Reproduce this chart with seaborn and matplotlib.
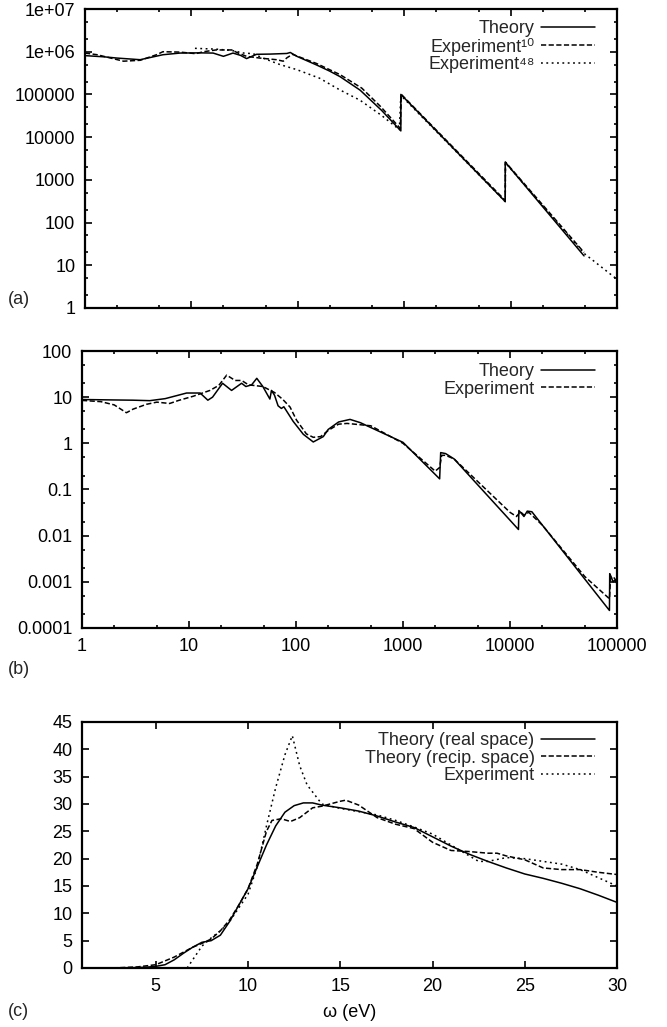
import numpy as np
import pandas as pd
import matplotlib
matplotlib.use("Agg")
import matplotlib.pyplot as plt
import seaborn as sns
from matplotlib.ticker import FixedLocator, FuncFormatter, NullFormatter

# ---------------- Panel (a) ----------------
a_theory_x = [1, 1.5, 2, 3.3, 5.4, 7.8, 12, 16, 20, 24.6, 29, 33, 41, 55, 79, 85, 98,
              150, 200, 250, 385, 615, 930, 930, 8900, 8900, 49000]
a_theory_y = [8.1e5, 7.6e5, 7.1e5, 6.5e5, 8.5e5, 9.3e5, 9.4e5, 9.3e5, 7.8e5, 9.3e5, 8.2e5,
              6.9e5, 8.7e5, 8.8e5, 9.1e5, 9.6e5, 7.8e5, 4.9e5, 3.5e5, 2.6e5, 1.26e5, 4.2e4,
              1.4e4, 1.0e5, 310, 2600, 16.6]
a_exp10_x = [1, 1.3, 2.3, 3.3, 4.7, 5.4, 7.8, 11, 13, 17, 24, 27, 33, 44, 63, 73, 79, 89,
             150, 250, 400, 600, 920, 940, 8900, 8950, 49000]
a_exp10_y = [9.3e5, 8.5e5, 6.0e5, 6.3e5, 8.5e5, 1.0e6, 9.8e5, 9.0e5, 1.0e6, 1.1e6, 1.1e6,
             9.5e5, 7.8e5, 7.1e5, 6.5e5, 6.0e5, 7.2e5, 8.7e5, 5.3e5, 2.9e5, 1.4e5, 5.2e4,
             1.6e4, 1.0e5, 330, 2600, 20]
a_exp48_x = [10.8, 17, 24, 31, 38, 47, 68, 98, 160, 245, 385, 615, 900, 930, 8900, 8950,
             49000, 100000]
a_exp48_y = [1.2e6, 1.15e6, 1.07e6, 9.3e5, 9.0e5, 7.1e5, 5.0e5, 3.8e5, 2.4e5, 1.3e5, 7.3e4,
             3.2e4, 1.5e4, 9.5e4, 310, 2500, 19, 4.7]
a_labels = ["Theory", "Experiment\u00b9\u2070", "Experiment\u2074\u2078"]
a_yticks = [1, 10, 100, 1000, 10000, 100000, 1e6, 1e7]

# ---------------- Panel (b) ----------------
b_theory_x = [1, 2, 3, 4.3, 6, 9.5, 12.7, 15, 16.6, 20.6, 25, 31, 34, 38.5, 43, 49, 57, 59,
              63, 68, 73, 77, 94, 117, 145, 180, 200, 250, 320, 400, 500, 1000, 2200, 2250,
              2500, 3000, 12000, 12100, 13000, 13500, 14500, 16000, 85000, 85500, 88000,
              92000, 96000, 100000]
b_theory_y = [8.9, 8.7, 8.6, 8.4, 9.3, 12.3, 12.3, 8.6, 10, 20, 14, 20, 17, 18.5, 25.6, 17,
              9.1, 14, 11, 6.5, 5.7, 6.2, 3.0, 1.57, 1.07, 1.4, 2.0, 2.9, 3.3, 2.8, 2.2, 1.05,
              0.17, 0.63, 0.6, 0.46, 0.0136, 0.035, 0.029, 0.026, 0.034, 0.033, 0.00024,
              0.0015, 0.0013, 0.001, 0.0011, 0.0009]
b_exp_x = [1, 1.5, 2, 2.6, 3, 4, 5, 6.6, 8, 11, 15.7, 19, 22.5, 27, 31, 36, 49, 63, 75, 88,
           101, 125, 145, 170, 200, 250, 300, 500, 1000, 2000, 2200, 2300, 2500, 3000, 10000,
           11500, 12500, 13500, 15000, 20000, 50000, 85000, 87000, 92000, 100000]
b_exp_y = [8.5, 8.0, 6.8, 4.6, 5.5, 7.0, 7.8, 7.3, 8.5, 10.5, 14, 18, 30, 23, 23, 18.5, 17,
           12.6, 9, 6.1, 3.2, 1.6, 1.35, 1.4, 1.9, 2.6, 2.7, 2.4, 1.0, 0.25, 0.3, 0.55, 0.55,
           0.46, 0.032, 0.026, 0.033, 0.028, 0.032, 0.017, 0.0013, 0.00043, 0.0012, 0.0013,
           0.001]
b_labels = ["Theory", "Experiment"]
b_yticks = [0.0001, 0.001, 0.01, 0.1, 1, 10, 100]
ab_xticks = [1, 10, 100, 1000, 10000, 100000]

# ---------------- Panel (c) ----------------
c_real_x = [1, 2, 3, 4, 4.5, 5, 5.5, 6, 6.5, 7, 7.5, 8, 8.5, 9, 9.5, 10, 10.5, 11, 11.5, 12,
            12.5, 13, 13.5, 14, 15, 16, 17, 18, 19, 20, 21, 22, 23, 24, 25, 26, 27, 28, 29, 30]
c_real_y = [0, 0, 0.02, 0.08, 0.15, 0.3, 0.6, 1.5, 2.7, 3.8, 4.7, 5.0, 6.0, 8.5, 11.5, 14.5,
            18.5, 22.5, 26, 28.5, 29.7, 30.2, 30.2, 29.8, 29.3, 28.7, 27.8, 26.7, 25.7, 24.0,
            22.3, 20.8, 19.5, 18.3, 17.2, 16.4, 15.5, 14.5, 13.3, 12.0]
c_recip_x = [1, 2, 3, 4, 5, 6, 7, 7.5, 8, 8.5, 9, 9.5, 10, 10.5, 11, 11.3, 11.8, 12.3, 12.8,
             13.5, 14, 15, 15.3, 16, 17, 18, 19, 20, 21, 22, 23, 23.5, 24, 25, 26, 27, 28, 29,
             30]
c_recip_y = [0, 0, 0.05, 0.2, 0.6, 2.0, 3.8, 4.5, 5.3, 6.8, 8.8, 11.5, 14.5, 19, 25, 27,
             27.3, 26.8, 27.5, 29.3, 29.6, 30.5, 30.7, 29.8, 27.5, 26.3, 25.5, 23, 21.5, 21.3,
             21, 21, 20.5, 19.8, 18.3, 18, 18, 17.5, 17.1]
c_exp_x = [6.7, 7, 7.5, 8, 8.5, 9, 9.5, 10, 10.5, 11, 11.5, 12, 12.4, 12.8, 13.2, 14, 15, 16,
           17, 18, 19, 20, 21, 22, 22.5, 23, 24, 25, 26, 27, 28, 29, 30]
c_exp_y = [0, 1.5, 4, 5.5, 6.8, 8.5, 11, 13.5, 18.5, 26, 33, 39, 42.5, 37, 33.5, 30, 29.2,
           28.6, 28, 27, 25.8, 24.5, 22.5, 20.5, 19.5, 19.5, 20.2, 20, 19.5, 19, 18, 16.5, 15]
c_labels = ["Theory (real space)", "Theory (recip. space)", "Experiment"]
c_xticks = [5, 10, 15, 20, 25, 30]
c_yticks = [0, 5, 10, 15, 20, 25, 30, 35, 40, 45]
c_xlabel = "ω (eV)"

# ---------------- Styling ----------------
sns.set_theme(style="white")
plt.rcParams['font.family'] = ['Liberation Sans', 'DejaVu Sans']
FS = 13

W, H = 667, 1027
fig = plt.figure(figsize=(W / 100, H / 100), dpi=100)


def rect(left, right, top, bottom):
    return [left / W, 1 - bottom / H, (right - left) / W, (bottom - top) / H]


axa = fig.add_axes(rect(85, 617, 9, 308))
axb = fig.add_axes(rect(82, 617, 351, 628))
axc = fig.add_axes(rect(82, 617, 722, 968))

LW = 1.1
SOLID = '-'
DASHED = (0, (3.4, 1.6))
DOTTED = (0, (1.2, 2.3))


def draw(ax, xs, ys, label, ls):
    df = pd.DataFrame({"x": xs, "y": ys})
    sns.lineplot(data=df, x="x", y="y", ax=ax, estimator=None, sort=False,
                 color="black", linewidth=LW, linestyle=ls, label=label)


def style(ax):
    for s in ax.spines.values():
        s.set_visible(True)
        s.set_linewidth(1.6)
        s.set_color("black")
    ax.tick_params(which="both", direction="in", top=True, right=True, bottom=True,
                   left=True, color="black", labelcolor="black", labelsize=FS, pad=7)
    ax.tick_params(which="major", length=5, width=1.2)
    ax.tick_params(which="minor", length=2.5, width=1.2)
    ax.set_xlabel("")
    ax.set_ylabel("")


def legend(ax, axh_px, top_off=9, right_off=22, axw_px=535):
    ax.legend(loc="upper right", bbox_to_anchor=(1 - right_off / axw_px, 1 - top_off / axh_px),
              frameon=False, markerfirst=False, fontsize=FS, handlelength=3.0,
              handletextpad=0.35, labelspacing=0.03, borderpad=0, borderaxespad=0)


def log_ticks(axis, majors):
    minors = [m * f for m in majors[:-1] for f in (2, 5)]
    axis.set_major_locator(FixedLocator(majors))
    axis.set_minor_locator(FixedLocator(minors))
    axis.set_minor_formatter(NullFormatter())


gfmt = FuncFormatter(lambda v, p: "%g" % v)

# Panel a
draw(axa, a_theory_x, a_theory_y, a_labels[0], SOLID)
draw(axa, a_exp10_x, a_exp10_y, a_labels[1], DASHED)
draw(axa, a_exp48_x, a_exp48_y, a_labels[2], DOTTED)
axa.set_xscale("log")
axa.set_yscale("log")
axa.set_xlim(1, 1e5)
axa.set_ylim(1, 1e7)
log_ticks(axa.xaxis, ab_xticks)
log_ticks(axa.yaxis, a_yticks)
axa.yaxis.set_major_formatter(gfmt)
axa.xaxis.set_major_formatter(NullFormatter())
style(axa)
axa.tick_params(axis="x", which="both", labelbottom=False)
legend(axa, 299, top_off=11, axw_px=532)

# Panel b
draw(axb, b_theory_x, b_theory_y, b_labels[0], SOLID)
draw(axb, b_exp_x, b_exp_y, b_labels[1], DASHED)
axb.set_xscale("log")
axb.set_yscale("log")
axb.set_xlim(1, 1e5)
axb.set_ylim(1e-4, 100)
log_ticks(axb.xaxis, ab_xticks)
log_ticks(axb.yaxis, b_yticks)
axb.xaxis.set_major_formatter(gfmt)
axb.yaxis.set_major_formatter(gfmt)
style(axb)
legend(axb, 277, top_off=12)

# Panel c
draw(axc, c_real_x, c_real_y, c_labels[0], SOLID)
draw(axc, c_recip_x, c_recip_y, c_labels[1], DASHED)
draw(axc, c_exp_x, c_exp_y, c_labels[2], DOTTED)
axc.set_xlim(1, 30)
axc.set_ylim(0, 45)
axc.xaxis.set_major_locator(FixedLocator(c_xticks))
axc.yaxis.set_major_locator(FixedLocator(c_yticks))
style(axc)
axc.set_xlabel(c_xlabel, fontsize=FS, labelpad=7, color="black")
legend(axc, 246, top_off=10)

fig.text(8 / W, 1 - 300 / H, "(a)", fontsize=FS, va="center", ha="left")
fig.text(8 / W, 1 - 670 / H, "(b)", fontsize=FS, va="center", ha="left")
fig.text(8 / W, 1 - 1012 / H, "(c)", fontsize=FS, va="center", ha="left")

fig.savefig("out.png", dpi=100)
